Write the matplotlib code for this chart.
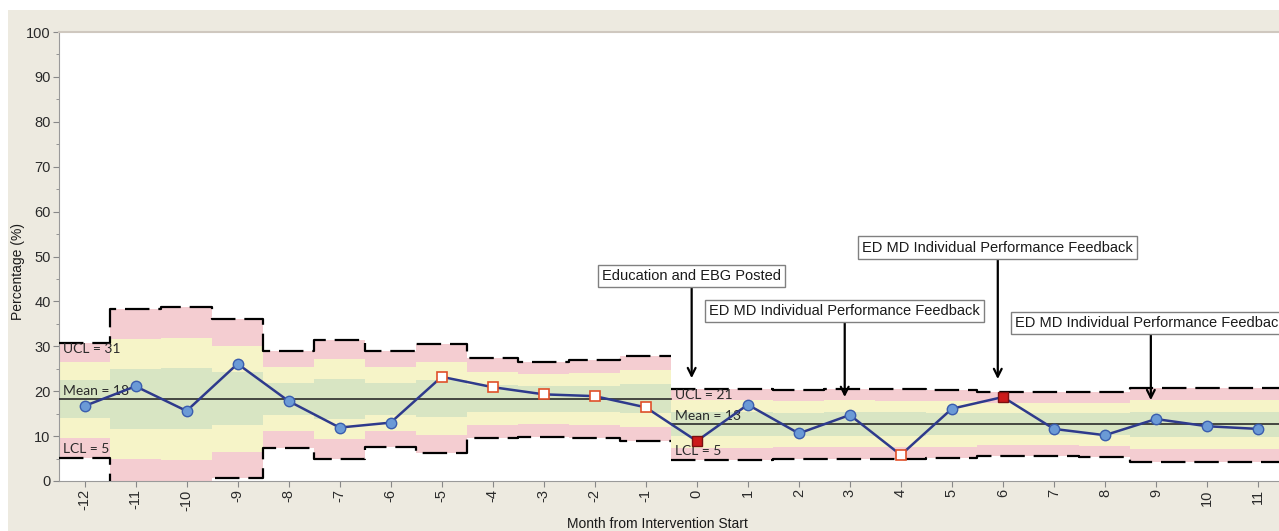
import matplotlib
matplotlib.use("Agg")
import matplotlib.pyplot as plt
from matplotlib.patches import Rectangle
import numpy as np

# ---------------- data ----------------
months = list(range(-12, 12))
pct = [16.7, 21.1, 15.6, 26.1, 17.8, 11.9, 13.0, 23.2, 20.9, 19.3, 18.9, 16.4,
       8.9, 17.0, 10.6, 14.7, 5.8, 16.1, 18.7, 11.6, 10.2, 13.8, 12.2, 11.6]
# marker class: 'c' = in control (circle), 'o' = run-rule flag (open square), 'f' = out of control (filled square)
flags = ['c', 'c', 'c', 'c', 'c', 'c', 'c', 'o', 'o', 'o', 'o', 'o',
         'f', 'c', 'c', 'c', 'o', 'c', 'f', 'c', 'c', 'c', 'c', 'c']
ucl = [30.7, 38.4, 38.7, 36.0, 29.0, 31.5, 29.0, 30.6, 27.3, 26.6, 26.9, 27.9,
       20.6, 20.6, 20.3, 20.6, 20.4, 20.3, 19.8, 19.8, 19.8, 20.8, 20.8, 20.8]
lcl = [5.2, -1.9, -2.1, 0.6, 7.4, 5.0, 7.6, 6.2, 9.5, 9.8, 9.5, 8.8,
       4.7, 4.7, 5.0, 4.9, 5.0, 5.1, 5.6, 5.6, 5.4, 4.3, 4.3, 4.3]
phase_start = [-12, 0]
phase_end = [-1, 11]
phase_mean = [18.3, 12.7]

event_labels = ["Education and EBG Posted",
                "ED MD Individual Performance Feedback",
                "ED MD Individual Performance Feedback",
                "ED MD Individual Performance Feedback"]
event_months = [0, 3, 6, 9]
event_label_y = [45.6, 37.9, 52.0, 35.2]
event_tip_y = [22.9, 18.7, 22.7, 18.0]

# ---------------- figure ----------------
W, H = 1279, 531
fig = plt.figure(figsize=(W / 100, H / 100), dpi=100)
fig.patch.set_facecolor("white")
fig.patches.append(Rectangle((8 / W, 0), 1, (H - 10) / H, transform=fig.transFigure,
                             facecolor="#EDEAE0", edgecolor="none", zorder=-10))

left_px, right_px, top_px, bot_px = 59, 1283.5, 32, 481
ax = fig.add_axes([left_px / W, (H - bot_px) / H, (right_px - left_px) / W, (bot_px - top_px) / H])
ax.set_facecolor("white")
ax.set_xlim(-12.5, 11.5)
ax.set_ylim(0, 100)

pink, yellow, green = "#F4CDD1", "#F6F4C8", "#D8E5C3"

m_arr = np.array(months)
u_arr = np.array(ucl)
l_arr = np.array(lcl)
for ps, pe, mu in zip(phase_start, phase_end, phase_mean):
    sel = (m_arr >= ps) & (m_arr <= pe)
    mm = m_arr[sel]
    uu = u_arr[sel]
    ll = l_arr[sel]
    mv = np.full_like(uu, mu)
    su = (uu - mv) / 3.0
    sl = (mv - ll) / 3.0
    edges = np.append(mm - 0.5, mm[-1] + 0.5)

    def st(v):
        return np.append(v, v[-1])

    bands = [
        (mv + 2 * su, uu, pink),
        (mv + su, mv + 2 * su, yellow),
        (mv, mv + su, green),
        (mv - sl, mv, green),
        (mv - 2 * sl, mv - sl, yellow),
        (ll, mv - 2 * sl, pink),
    ]
    for lo, hi, c in bands:
        ax.fill_between(edges, st(lo), st(hi), step="post", color=c, lw=0, zorder=1)
    ax.step(edges, st(uu), where="post", color="black", lw=1.6, dashes=(11, 4), zorder=3)
    ax.step(edges, st(ll), where="post", color="black", lw=1.6, dashes=(11, 4), zorder=3)
    ax.plot([edges[0], edges[-1]], [mu, mu], color="#2b2b2b", lw=1.2, zorder=3)

    lab_font = dict(family=["Lato", "DejaVu Sans"], fontsize=10, color="#2a2a2a", zorder=4)
    x0 = edges[0] + 0.07
    ax.text(x0, uu[0] - 1.4, f"UCL = {round(uu[0])}", ha="left", va="center", **lab_font)
    ax.text(x0, mu + 1.8, f"Mean = {round(mu)}", ha="left", va="center", **lab_font)
    ax.text(x0, ll[0] + 1.9, f"LCL = {round(ll[0])}", ha="left", va="center", **lab_font)

# data line
ax.plot(months, pct, color="#2E3A8C", lw=1.8, zorder=5)
for m, v, f in zip(months, pct, flags):
    if f == "c":
        ax.plot(m, v, "o", ms=7.5, mfc="#6B9AD6", mec="#3A5DAE", mew=1.0, zorder=6)
    elif f == "o":
        ax.plot(m, v, "s", ms=7.5, mfc="white", mec="#E0502A", mew=1.2, zorder=6)
    else:
        ax.plot(m, v, "s", ms=7.5, mfc="#CC1A1A", mec="#7A1010", mew=1.0, zorder=6)

# annotations
for txt, em, ly, ty in zip(event_labels, event_months, event_label_y, event_tip_y):
    xa = em - 0.1
    ax.annotate(txt, xy=(xa, ty), xytext=(xa, ly), ha="center", va="center",
                fontsize=10.5, family=["Liberation Sans", "DejaVu Sans"], color="#1a1a1a",
                bbox=dict(boxstyle="square,pad=0.28", fc="white", ec="#808080", lw=1),
                arrowprops=dict(arrowstyle="->", color="black", lw=1.6, shrinkA=0, shrinkB=0,
                                mutation_scale=14),
                zorder=7, annotation_clip=False)

# axes styling
ax.set_yticks(range(0, 101, 10))
ax.set_yticks(range(5, 100, 10), minor=True)
ax.set_xticks(months)
ax.set_xticklabels([str(m) for m in months], rotation=90)
ax.tick_params(axis="both", which="major", length=4, color="#888888", labelsize=10.5,
               labelcolor="#2a2a2a", pad=2)
ax.tick_params(axis="y", which="minor", length=2, color="#888888")
for lab in ax.get_xticklabels() + ax.get_yticklabels():
    lab.set_family(["Liberation Sans", "DejaVu Sans"])
ax.spines["left"].set_color("#9a9a9a")
ax.spines["bottom"].set_color("#9a9a9a")
ax.spines["top"].set_color("#cfc8bf")
ax.spines["top"].set_linewidth(1.5)
ax.spines["right"].set_visible(False)

fig.text(18.5 / W, (H - 272) / H, "Percentage (%)", rotation=90, ha="center", va="center",
         fontsize=10, family=["Liberation Sans", "DejaVu Sans"], color="#1a1a1a")
fig.text(657 / W, (H - 524) / H, "Month from Intervention Start", ha="center", va="center",
         fontsize=10, family=["Liberation Sans", "DejaVu Sans"], color="#1a1a1a")

fig.savefig("out.png", dpi=100, facecolor=fig.get_facecolor())
